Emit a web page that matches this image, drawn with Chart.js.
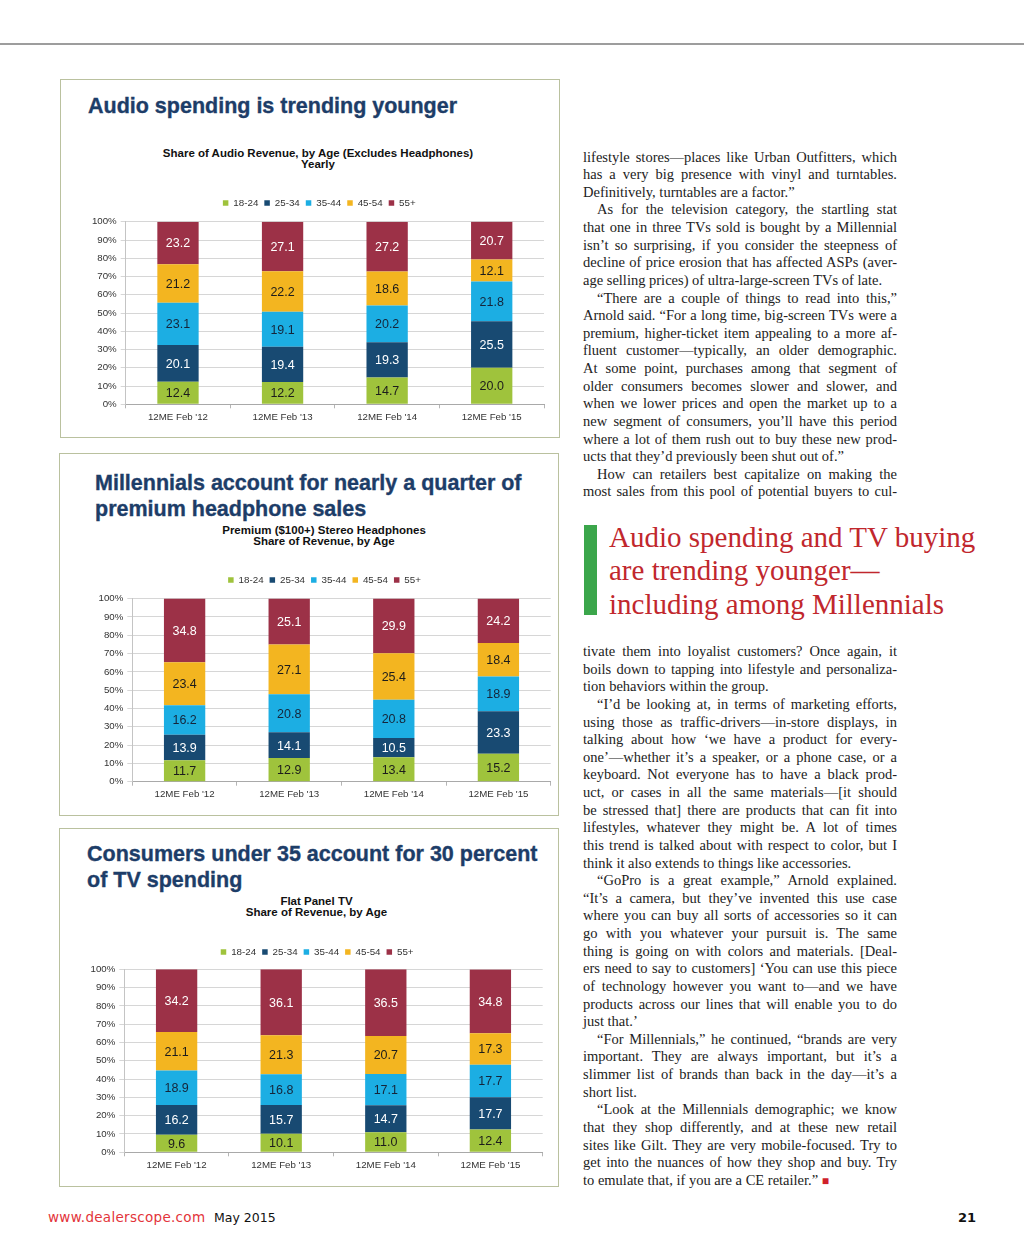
<!DOCTYPE html>
<html>
<head>
<meta charset="utf-8">
<script src="https://cdn.jsdelivr.net/npm/chart.js@4.4.1/dist/chart.umd.min.js"></script>
<style>
html, body { margin: 0; padding: 0; background: #fff; }
body { width: 1024px; height: 1254px; position: relative; overflow: hidden; font-family: "Liberation Sans", Arial, sans-serif; }
.rule { position: absolute; left: 0; top: 43px; width: 1024px; height: 2px; background: #9d9d9d; }
.box { position: absolute; border: 1.5px solid #bac19f; box-sizing: border-box; }
.head { position: absolute; color: #1d3d68; font-weight: bold; font-size: 21.5px; line-height: 26px; white-space: nowrap; -webkit-text-stroke: 0.35px #1d3d68; }
.sub { position: absolute; color: #111; font-weight: bold; font-size: 11.5px; line-height: 11.4px; text-align: center; white-space: nowrap; transform: translateX(-50%); }
canvas { position: absolute; }
.col { position: absolute; left: 583px; width: 314px; font-family: "Liberation Serif", "Times New Roman", serif; font-size: 14.5px; line-height: 17.63px; color: #222; }
.col div { height: 17.63px; text-align: justify; text-align-last: justify; }
.col div.e { text-align-last: left; }
.col div.i { text-indent: 14px; }
.pull { position: absolute; left: 609px; top: 520.6px; font-family: "Liberation Serif", "Times New Roman", serif; font-size: 29px; line-height: 33.8px; color: #c1272d; white-space: nowrap; }
.bar { position: absolute; left: 584px; top: 525px; width: 13px; height: 90px; background: #3ba64b; }
.foot { position: absolute; top: 1209.7px; font-family: "DejaVu Sans", Verdana, sans-serif; font-size: 13px; line-height: 15px; white-space: nowrap; }
</style>
</head>
<body>
<div class="rule"></div>

<div class="box" style="left:60px;top:79px;width:500px;height:359px;"></div>
<div class="box" style="left:59px;top:453px;width:500px;height:363px;"></div>
<div class="box" style="left:59px;top:828px;width:500px;height:359px;"></div>

<div class="head" style="left:88px;top:93px;">Audio spending is trending younger</div>
<div class="sub" style="left:318px;top:148px;">Share of Audio Revenue, by Age (Excludes Headphones)<br>Yearly</div>
<canvas id="audio"></canvas>

<div class="head" style="left:95px;top:469.5px;">Millennials account for nearly a quarter of<br>premium headphone sales</div>
<div class="sub" style="left:324px;top:524.7px;">Premium ($100+) Stereo Headphones<br>Share of Revenue, by Age</div>
<canvas id="phones"></canvas>

<div class="head" style="left:87px;top:840.8px;">Consumers under 35 account for 30 percent<br>of TV spending</div>
<div class="sub" style="left:316.5px;top:896px;">Flat Panel TV<br>Share of Revenue, by Age</div>
<canvas id="tv"></canvas>

<div class="col" style="top:148.6px;">
<div>lifestyle stores—places like Urban Outfitters, which</div>
<div>has a very big presence with vinyl and turntables.</div>
<div class="e">Definitively, turntables are a factor.”</div>
<div class="i">As for the television category, the startling stat</div>
<div>that one in three TVs sold is bought by a Millennial</div>
<div>isn’t so surprising, if you consider the steepness of</div>
<div>decline of price erosion that has affected ASPs (aver-</div>
<div class="e">age selling prices) of ultra-large-screen TVs of late.</div>
<div class="i">“There are a couple of things to read into this,”</div>
<div>Arnold said. “For a long time, big-screen TVs were a</div>
<div>premium, higher-ticket item appealing to a more af-</div>
<div>fluent customer—typically, an older demographic.</div>
<div>At some point, purchases among that segment of</div>
<div>older consumers becomes slower and slower, and</div>
<div>when we lower prices and open the market up to a</div>
<div>new segment of consumers, you’ll have this period</div>
<div>where a lot of them rush out to buy these new prod-</div>
<div class="e">ucts that they’d previously been shut out of.”</div>
<div class="i">How can retailers best capitalize on making the</div>
<div>most sales from this pool of potential buyers to cul-</div>
</div>

<div class="bar"></div>
<div class="pull">Audio spending and TV buying<br>are trending younger—<br>including among Millennials</div>

<div class="col" style="top:643px;">
<div>tivate them into loyalist customers? Once again, it</div>
<div>boils down to tapping into lifestyle and personaliza-</div>
<div class="e">tion behaviors within the group.</div>
<div class="i">“I’d be looking at, in terms of marketing efforts,</div>
<div>using those as traffic-drivers—in-store displays, in</div>
<div>talking about how ‘we have a product for every-</div>
<div>one’—whether it’s a speaker, or a phone case, or a</div>
<div>keyboard. Not everyone has to have a black prod-</div>
<div>uct, or cases in all the same materials—[it should</div>
<div>be stressed that] there are products that can fit into</div>
<div>lifestyles, whatever they might be. A lot of times</div>
<div>this trend is talked about with respect to color, but I</div>
<div class="e">think it also extends to things like accessories.</div>
<div class="i">“GoPro is a great example,” Arnold explained.</div>
<div>“It’s a camera, but they’ve invented this use case</div>
<div>where you can buy all sorts of accessories so it can</div>
<div>go with you whatever your pursuit is. The same</div>
<div>thing is going on with colors and materials. [Deal-</div>
<div>ers need to say to customers] ‘You can use this piece</div>
<div>of technology however you want to—and we have</div>
<div>products across our lines that will enable you to do</div>
<div class="e">just that.’</div>
<div class="i">“For Millennials,” he continued, “brands are very</div>
<div>important. They are always important, but it’s a</div>
<div>slimmer list of brands than back in the day—it’s a</div>
<div class="e">short list.</div>
<div class="i">“Look at the Millennials demographic; we know</div>
<div>that they shop differently, and at these new retail</div>
<div>sites like Gilt. They are very mobile-focused. Try to</div>
<div>get into the nuances of how they shop and buy. Try</div>
<div class="e">to emulate that, if you are a CE retailer.” <span style="color:#d0202a;font-size:12px;">■</span></div>
</div>

<div class="foot" style="left:48px;color:#e3343a;font-size:13.5px;letter-spacing:0.3px;">www.dealerscope.com</div>
<div class="foot" style="left:214px;color:#111;font-size:12.5px;">May 2015</div>
<div class="foot" style="left:958px;color:#111;font-weight:bold;">21</div>

<script>
const categories = ["12ME Feb '12", "12ME Feb '13", "12ME Feb '14", "12ME Feb '15"];
const ageGroups = ["18-24", "25-34", "35-44", "45-54", "55+"];
const yTickValues = [0, 10, 20, 30, 40, 50, 60, 70, 80, 90, 100];

// Share of Audio Revenue (excludes headphones)
const audio1824 = [12.4, 12.2, 14.7, 20.0];
const audio2534 = [20.1, 19.4, 19.3, 25.5];
const audio3544 = [23.1, 19.1, 20.2, 21.8];
const audio4554 = [21.2, 22.2, 18.6, 12.1];
const audio55 = [23.2, 27.1, 27.2, 20.7];

// Premium ($100+) stereo headphones
const phones1824 = [11.7, 12.9, 13.4, 15.2];
const phones2534 = [13.9, 14.1, 10.5, 23.3];
const phones3544 = [16.2, 20.8, 20.8, 18.9];
const phones4554 = [23.4, 27.1, 25.4, 18.4];
const phones55 = [34.8, 25.1, 29.9, 24.2];

// Flat panel TV
const tv1824 = [9.6, 10.1, 11.0, 12.4];
const tv2534 = [16.2, 15.7, 14.7, 17.7];
const tv3544 = [18.9, 16.8, 17.1, 17.7];
const tv4554 = [21.1, 21.3, 20.7, 17.3];
const tv55 = [34.2, 36.1, 36.5, 34.8];

const barColors = ["#9fc33c", "#184a72", "#1caee3", "#f3b520", "#9c3147"];
const labelColors = ["#1c1c1c", "#ffffff", "#15253a", "#1c1c1c", "#ffffff"];
const font = '"Liberation Sans", Arial, sans-serif';

const valueLabels = {
  id: 'valueLabels',
  afterDatasetsDraw(chart) {
    const ctx = chart.ctx;
    ctx.save();
    ctx.font = '12.5px ' + font;
    ctx.textAlign = 'center';
    ctx.textBaseline = 'middle';
    chart.data.datasets.forEach((ds, i) => {
      chart.getDatasetMeta(i).data.forEach((bar, j) => {
        ctx.fillStyle = labelColors[i];
        ctx.fillText(ds.data[j].toFixed(1), bar.x, (bar.y + bar.base) / 2 + 1);
      });
    });
    ctx.restore();
  }
};

function makeChart(id, series, g) {
  const right = g.plotRight + 10;
  const left = Math.round(g.plotLeft - 37);
  const top = Math.round(g.legendY - 10.75);
  const w = Math.round(right - left);
  const h = Math.round(g.plotBottom + 26 - top);
  const yW = g.plotLeft - left;
  const xH = top + h - g.plotBottom;
  const extra = g.plotTop - (top + 25.5);
  const legendShift = g.legendX - (left + w / 2) + 3;
  const cv = document.getElementById(id);
  cv.width = w; cv.height = h;
  cv.style.left = left + 'px'; cv.style.top = top + 'px';
  cv.style.width = w + 'px'; cv.style.height = h + 'px';

  new Chart(cv, {
    type: 'bar',
    data: {
      labels: categories,
      datasets: series.map((d, i) => ({
        label: ageGroups[i],
        data: d,
        backgroundColor: barColors[i],
        barPercentage: 0.395,
        categoryPercentage: 1.0
      }))
    },
    options: {
      responsive: false,
      animation: false,
      layout: { padding: { right: w - (g.plotRight - left), left: 0, top: 0, bottom: 0 } },
      plugins: {
        legend: {
          position: 'top',
          labels: { boxWidth: 5.5, boxHeight: 5.5, padding: 6, color: '#333', font: { family: font, size: 9.8 } }
        },
        tooltip: { enabled: false }
      },
      scales: {
        x: {
          stacked: true,
          grid: { drawOnChartArea: false, offset: true, tickLength: 4, color: '#b5b5b5' },
          border: { color: '#a9a9a9' },
          ticks: { color: '#333', padding: 3, font: { family: font, size: 9.7 } },
          afterFit: s => { s.height = xH; }
        },
        y: {
          stacked: true,
          min: 0,
          max: 100,
          afterBuildTicks: s => { s.ticks = yTickValues.map(v => ({ value: v })); },
          grid: { color: '#d6d6d6', tickLength: 5 },
          border: { color: '#c4c4c4' },
          ticks: { color: '#333', padding: 4, font: { family: font, size: 9.7 }, callback: v => v + '%' },
          afterFit: s => { s.width = yW; }
        }
      }
    },
    plugins: [valueLabels, {
      id: 'legendPlace',
      afterInit(chart) {
        const lg = chart.legend, fit = lg.fit;
        lg.fit = function () { fit.call(this); this.height += extra; };
      },
      afterLayout(chart) {
        chart.legend.left += legendShift;
        chart.legend.right += legendShift;
      }
    }]
  });
}

makeChart('audio', [audio1824, audio2534, audio3544, audio4554, audio55],
  { legendX: 321.3, legendY: 203, plotTop: 221.5, plotBottom: 404.3, plotLeft: 125.7, plotRight: 544 });
makeChart('phones', [phones1824, phones2534, phones3544, phones4554, phones55],
  { legendX: 326.7, legendY: 580, plotTop: 598.3, plotBottom: 781.7, plotLeft: 132.3, plotRight: 550.7 });
makeChart('tv', [tv1824, tv2534, tv3544, tv4554, tv55],
  { legendX: 319.3, legendY: 951.3, plotTop: 969, plotBottom: 1152.3, plotLeft: 124.3, plotRight: 542.7 });
</script>
</body>
</html>
